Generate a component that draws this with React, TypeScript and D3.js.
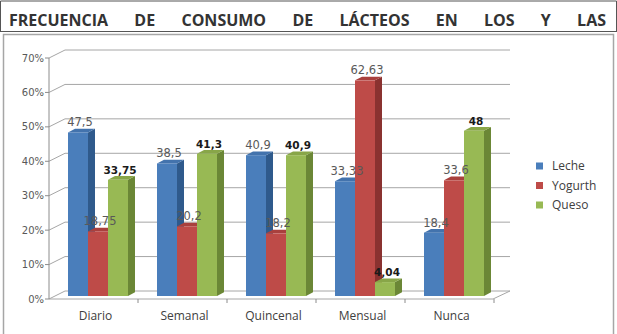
import * as d3 from "d3";
import { useEffect, useRef } from "react";

const titleWords = ["FRECUENCIA", "DE", "CONSUMO", "DE", "LÁCTEOS", "EN", "LOS", "Y", "LAS"];
const categories = ["Diario", "Semanal", "Quincenal", "Mensual", "Nunca"];
const seriesNames = ["Leche", "Yogurth", "Queso"];
const leche = [47.5, 38.5, 40.9, 33.33, 18.4];
const yogurth = [18.75, 20.2, 18.2, 62.63, 33.6];
const queso = [33.75, 41.3, 40.9, 4.04, 48];
const yTicks = [0, 10, 20, 30, 40, 50, 60, 70];

const colors = [
  { front: "#4a7ebb", side: "#2f5a8c", top: "#4373ad" },
  { front: "#be4b48", side: "#8a3230", top: "#a9403d" },
  { front: "#98b954", side: "#6b8736", top: "#88a648" },
];

export default function App() {
  const ref = useRef<SVGSVGElement>(null);

  useEffect(() => {
    const width = 617,
      height = 334;
    const svg = d3.select(ref.current);
    svg.selectAll("*").remove();

    // page frame + title
    svg.append("path")
      .attr("d", "M0.5,32 V1 H616.5 V32 M0,31.5 H617")
      .attr("fill", "none")
      .attr("stroke", "#555")
      .attr("stroke-width", 1);

    const tg = svg.append("g");
    const words = tg
      .selectAll("text")
      .data(titleWords)
      .join("text")
      .attr("y", 26)
      .attr("font-family", "'Open Sans', sans-serif")
      .attr("font-weight", "bold")
      .attr("font-size", 16)
      .attr("fill", "#333")
      .text((d) => d);
    const widths: number[] = [];
    words.each(function () {
      widths.push((this as SVGTextElement).getComputedTextLength());
    });
    const left = 9,
      right = 606;
    const gap = (right - left - d3.sum(widths)) / (titleWords.length - 1);
    let cx = left;
    words.attr("x", (_d, i) => {
      const x = cx;
      cx += widths[i] + gap;
      return x;
    });

    // chart frame
    svg.append("rect")
      .attr("x", 3.5)
      .attr("y", 34.5)
      .attr("width", 610)
      .attr("height", 320)
      .attr("fill", "#fff")
      .attr("stroke", "#a6a6a6")
      .attr("stroke-width", 1.5);

    const DX = 16,
      DY = -8;
    const x = d3.scaleBand().domain(categories).range([49, 494]);
    const xs = d3.scaleBand().domain(seriesNames).range([19, 79]);
    const y = d3.scaleLinear().domain([0, 70]).range([299, 58]);

    const g = svg.append("g");

    // walls
    g.selectAll(".grid")
      .data(yTicks)
      .join("path")
      .attr("class", "grid")
      .attr("d", (d) => `M49,${y(d)} L${49 + DX},${y(d) + DY} H510`)
      .attr("fill", "none")
      .attr("stroke", "#a6a6a6")
      .attr("stroke-width", 1);

    g.append("path")
      .attr("d", `M49,${y(0)} H493 L510,${y(0) + DY}`)
      .attr("fill", "none")
      .attr("stroke", "#a6a6a6");

    g.append("line")
      .attr("x1", 49)
      .attr("x2", 49)
      .attr("y1", y(70))
      .attr("y2", y(0))
      .attr("stroke", "#8c8c8c");

    g.selectAll(".ytick")
      .data(yTicks)
      .join("line")
      .attr("class", "ytick")
      .attr("x1", 45)
      .attr("x2", 49)
      .attr("y1", (d) => y(d))
      .attr("y2", (d) => y(d))
      .attr("stroke", "#8c8c8c");

    g.selectAll(".ylab")
      .data(yTicks)
      .join("text")
      .attr("class", "ylab")
      .attr("x", 44)
      .attr("y", (d) => y(d) + 3.5)
      .attr("text-anchor", "end")
      .attr("font-family", "'DejaVu Sans', sans-serif")
      .attr("font-size", 10)
      .attr("fill", "#595959")
      .text((d) => d + "%");

    g.selectAll(".xtick")
      .data(categories)
      .join("line")
      .attr("class", "xtick")
      .attr("x1", (d) => x(d)! + x.bandwidth())
      .attr("x2", (d) => x(d)! + x.bandwidth())
      .attr("y1", y(0))
      .attr("y2", y(0) + 4)
      .attr("stroke", "#8c8c8c");

    g.selectAll(".xlab")
      .data(categories)
      .join("text")
      .attr("class", "xlab")
      .attr("x", (d) => x(d)! + x.bandwidth() / 2 + 2)
      .attr("y", 320)
      .attr("text-anchor", "middle")
      .attr("font-family", "'Open Sans', sans-serif")
      .attr("font-size", 12)
      .attr("fill", "#404040")
      .text((d) => d);

    // bars
    const series = [leche, yogurth, queso];
    const bdx = 7,
      bdy = -3.7,
      base = y(0) - 3,
      bw = xs.bandwidth();
    const barData = categories.flatMap((c, ci) =>
      series.map((s, si) => ({ c, si, v: s[ci] }))
    );
    const bars = g
      .selectAll(".bar")
      .data(barData)
      .join("g")
      .attr("class", "bar");
    bars.each(function (d) {
      const bx = x(d.c)! + xs(seriesNames[d.si])!;
      const top = base - (y(0) - y(d.v));
      const col = colors[d.si];
      const b = d3.select(this);
      b.append("polygon")
        .attr("points", `${bx + bw},${top} ${bx + bw + bdx},${top + bdy} ${bx + bw + bdx},${base + bdy} ${bx + bw},${base}`)
        .attr("fill", col.side);
      b.append("polygon")
        .attr("points", `${bx},${top} ${bx + bdx},${top + bdy} ${bx + bw + bdx},${top + bdy} ${bx + bw},${top}`)
        .attr("fill", col.top);
      b.append("rect")
        .attr("x", bx)
        .attr("y", top)
        .attr("width", bw)
        .attr("height", base - top)
        .attr("fill", col.front);
    });

    // value labels
    g.selectAll(".vlab")
      .data(barData)
      .join("text")
      .attr("class", "vlab")
      .attr("x", (d) => x(d.c)! + xs(seriesNames[d.si])! + bw / 2 + 2)
      .attr("y", (d) => base - (y(0) - y(d.v)) - 6)
      .attr("text-anchor", "middle")
      .attr("font-family", "'DejaVu Sans', sans-serif")
      .attr("font-size", (d) => (d.si === 2 ? 10.5 : 11.5))
      .attr("font-weight", (d) => (d.si === 2 ? "bold" : "normal"))
      .attr("fill", (d) => (d.si === 2 ? "#1a1a1a" : "#595959"))
      .text((d) => String(d.v).replace(".", ","));

    // legend
    const lg = svg
      .append("g")
      .selectAll("g")
      .data(seriesNames)
      .join("g")
      .attr("transform", (_d, i) => `translate(536,${166 + i * 19.5})`);
    lg.append("rect")
      .attr("x", 0)
      .attr("y", -3.5)
      .attr("width", 7)
      .attr("height", 7)
      .attr("fill", (_d, i) => colors[i].front);
    lg.append("text")
      .attr("x", 16)
      .attr("y", 4)
      .attr("font-family", "'Open Sans', sans-serif")
      .attr("font-size", 12)
      .attr("fill", "#404040")
      .text((d) => d);

    svg.attr("width", width).attr("height", height);
  }, []);

  return (
    <svg
      ref={ref}
      width={617}
      height={334}
      style={{ position: "absolute", left: 0, top: 0, background: "#fff" }}
    />
  );
}
